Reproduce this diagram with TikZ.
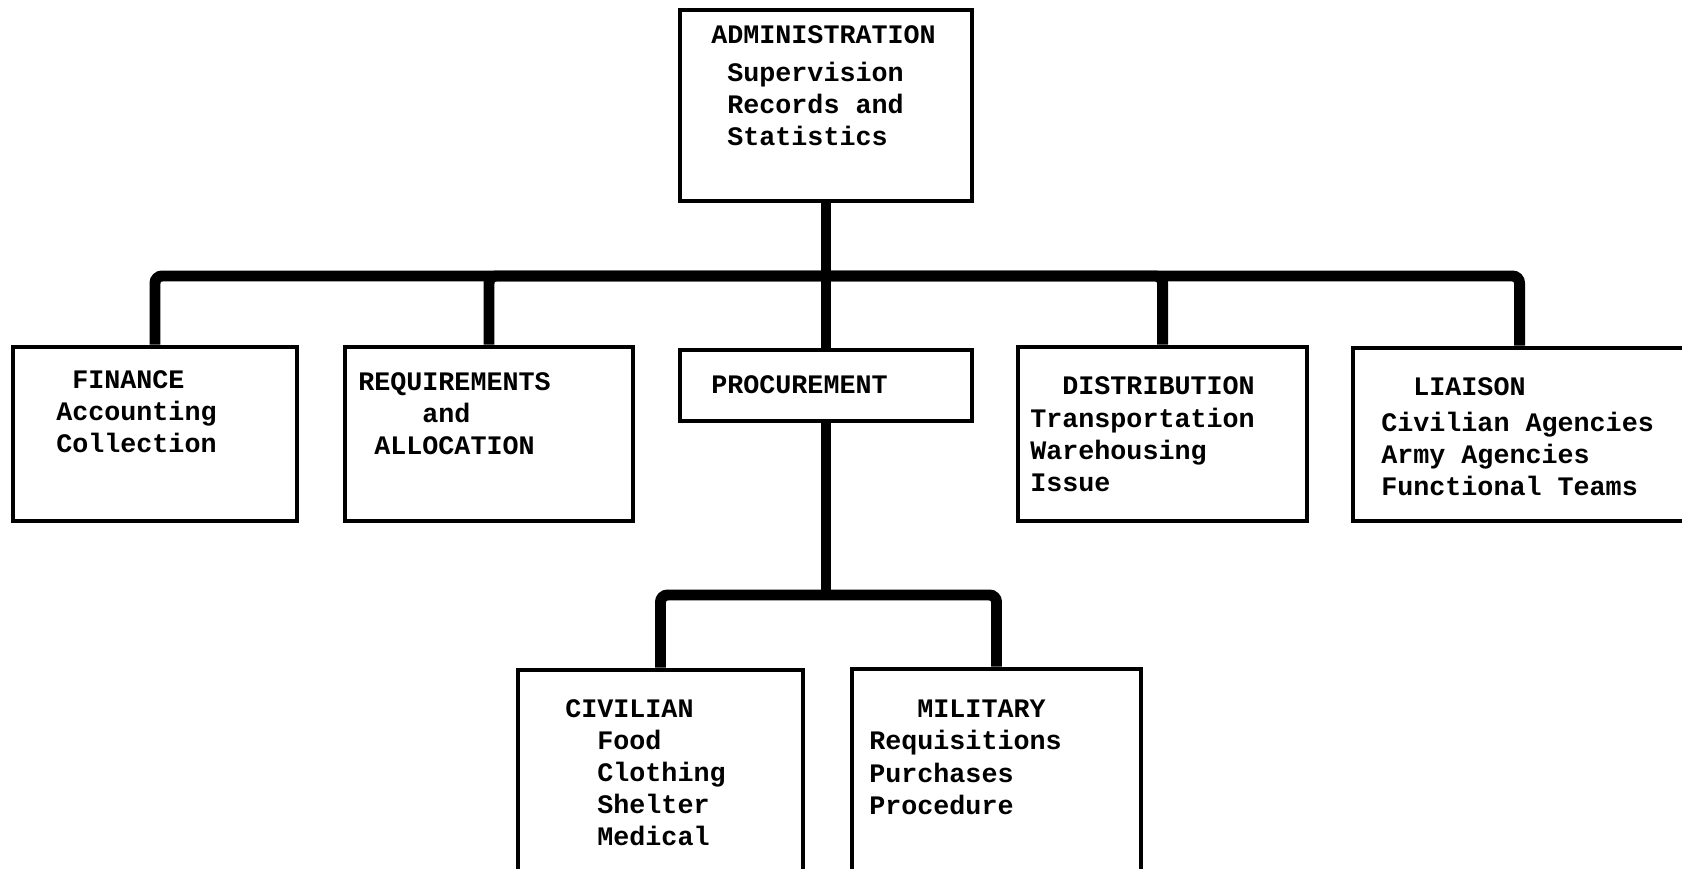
\documentclass[tikz,border=0pt]{standalone}
\usepackage{fontspec}
\setmainfont{Liberation Mono}
\usetikzlibrary{fit}
\newcommand{\ind}[1]{\hspace*{#1\fontcharwd\font`M}}
\begin{document}
\begin{tikzpicture}[x=0.025cm, y=-0.025cm,
            unit/.style={draw, line width=3.4pt, inner sep=0pt, fill=white},
            link/.style={line width=7.8pt, rounded corners=5pt},
            txt/.style={anchor=north west, inner sep=0pt, align=left,
              font=\fontsize{19}{22.8}\selectfont\bfseries}]
  \useasboundingbox (0,0) rectangle (1682,868);
  \clip (0,0) rectangle (1682,868);
  \node[unit, fit={(680,10) (972,201)}] (adm) {};
  \node[unit, fit={(13,347) (297,521)}] (fin) {};
  \node[unit, fit={(345,347) (633,521)}] (req) {};
  \node[unit, fit={(680,350) (972,421)}] (proc) {};
  \node[unit, fit={(1018,347) (1307,521)}] (dist) {};
  \node[unit, fit={(1353,348) (1686,521)}] (lia) {};
  \node[unit, fit={(518,670) (803,900)}] (civ) {};
  \node[unit, fit={(852,669) (1141,900)}] (mil) {};
  \coordinate (bus) at (826,276);
  \coordinate (split) at (826,595);
  \draw[link] (adm) -- (proc);
  \draw[link] (fin.north) |- (bus) -| (lia.north);
  \draw[link] (req.north) |- (bus);
  \draw[link] (dist.north) |- (bus);
  \draw[link] (proc) -- (split);
  \draw[link] (civ.north) |- (split) -| (mil.north);
  \node[txt] (admtxt) at (711,25) {ADMINISTRATION\\[4.5pt]\ind{1}Supervision\\\ind{1}Records and\\\ind{1}Statistics};
  \node[txt] (fintxt) at (56,370) {\ind{1}FINANCE\\Accounting\\Collection};
  \node[txt] (reqtxt) at (358,372) {REQUIREMENTS\\\ind{4}and\\\ind{1}ALLOCATION};
  \node[txt] (proctxt) at (711,375) {PROCUREMENT};
  \node[txt] (disttxt) at (1030,376) {\ind{2}DISTRIBUTION\\[1pt]Transportation\\Warehousing\\Issue};
  \node[txt] (liatxt) at (1381,377) {\ind{2}LIAISON\\[3pt]Civilian Agencies\\Army Agencies\\Functional Teams};
  \node[txt] (civtxt) at (565,699) {CIVILIAN\\\ind{2}Food\\\ind{2}Clothing\\\ind{2}Shelter\\\ind{2}Medical};
  \node[txt] (miltxt) at (869,700) {\ind{3}MILITARY\\Requisitions\\Purchases\\Procedure};
\end{tikzpicture}
\end{document}
